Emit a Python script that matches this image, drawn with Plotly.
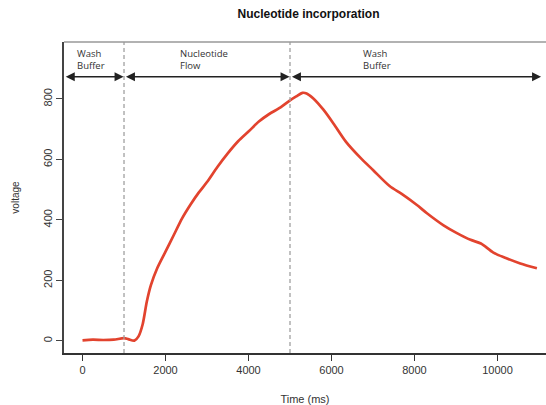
import plotly.graph_objects as go

# Data
time_ms = [0, 250, 500, 750, 1000, 1100, 1250, 1350, 1450, 1550, 1650, 1800, 2000, 2200, 2400,
           2600, 2800, 3000, 3250, 3500, 3750, 4000, 4250, 4500, 4750, 5000, 5150, 5300, 5400,
           5550, 5800, 6050, 6350, 6700, 7000, 7400, 7700, 8050, 8300, 8700, 9000, 9350, 9600,
           9900, 10200, 10550, 10950]
voltage = [2, 4, 3, 4, 9, 6, 1, 15, 55, 130, 185, 240, 295, 350, 405,
           450, 490, 525, 575, 620, 660, 692, 725, 750, 770, 795, 808, 820, 818,
           803, 765, 718, 658, 605, 565, 512, 485, 450, 422, 382, 358, 334, 322,
           292, 274, 256, 240]

phase_bounds = [1000, 5000]
phase_labels = ["Wash<br>Buffer", "Nucleotide<br>Flow", "Wash<br>Buffer"]
phase_label_x = [-190, 2300, 6710]
arrow_segments = [(-440, 990), (1010, 4990), (5010, 11050)]
x_ticks = [0, 2000, 4000, 6000, 8000, 10000]
y_ticks = [0, 200, 400, 600, 800]

fig = go.Figure()
fig.add_trace(go.Scatter(x=time_ms, y=voltage, mode="lines",
                         line=dict(color="#e2432e", width=2.7, shape="spline", smoothing=0.8),
                         showlegend=False, hoverinfo="skip"))

for b in phase_bounds:
    fig.add_shape(type="line", xref="x", yref="paper", x0=b, x1=b, y0=0, y1=1,
                  line=dict(color="#a0a0a0", width=1.3, dash="4px,3px"))

# top border
fig.add_shape(type="line", xref="paper", yref="paper", x0=0, x1=1, y0=1, y1=1,
              line=dict(color="#999999", width=1.5))

for (a, b) in arrow_segments:
    fig.add_annotation(x=b, y=873, ax=a, ay=873, xref="x", yref="y", axref="x", ayref="y",
                       text="", showarrow=True, arrowhead=2, arrowside="end+start",
                       arrowsize=1.2, arrowwidth=1.5, arrowcolor="#222222")

for lab, lx in zip(phase_labels, phase_label_x):
    fig.add_annotation(x=lx, y=929, xref="x", yref="y", text=lab, showarrow=False,
                       xanchor="left", yanchor="middle", align="left",
                       font=dict(family="Open Sans", size=9.5, color="#333333"))

fig.update_layout(
    width=546, height=405,
    margin=dict(l=64, r=0, t=42, b=52),
    plot_bgcolor="white", paper_bgcolor="white",
    title=dict(text="<b>Nucleotide incorporation</b>", x=0.565, xanchor="center",
               y=0.965, yanchor="middle",
               font=dict(family="Liberation Sans", size=12, color="#111111")),
    font=dict(family="Liberation Sans", size=11, color="#333333"),
    xaxis=dict(range=[-446, 11169], tickvals=x_ticks, ticktext=[str(v) for v in x_ticks],
               showgrid=False, zeroline=False, showline=True, linecolor="#333333", linewidth=1.5,
               ticks="outside", ticklen=6, tickcolor="#333333",
               title=dict(text="Time (ms)", standoff=20, font=dict(size=11)),
               tickfont=dict(size=11, color="#333333")),
    yaxis=dict(range=[-40, 988], tickvals=y_ticks, ticktext=[str(v) for v in y_ticks],
               showgrid=False, zeroline=False, showline=True, linecolor="#444444", linewidth=1.5,
               ticks="outside", ticklen=6, tickcolor="#444444", tickangle=-90,
               title=dict(text="voltage", standoff=20, font=dict(size=10)),
               tickfont=dict(size=11, color="#333333")),
)

fig.write_html("out.html")
